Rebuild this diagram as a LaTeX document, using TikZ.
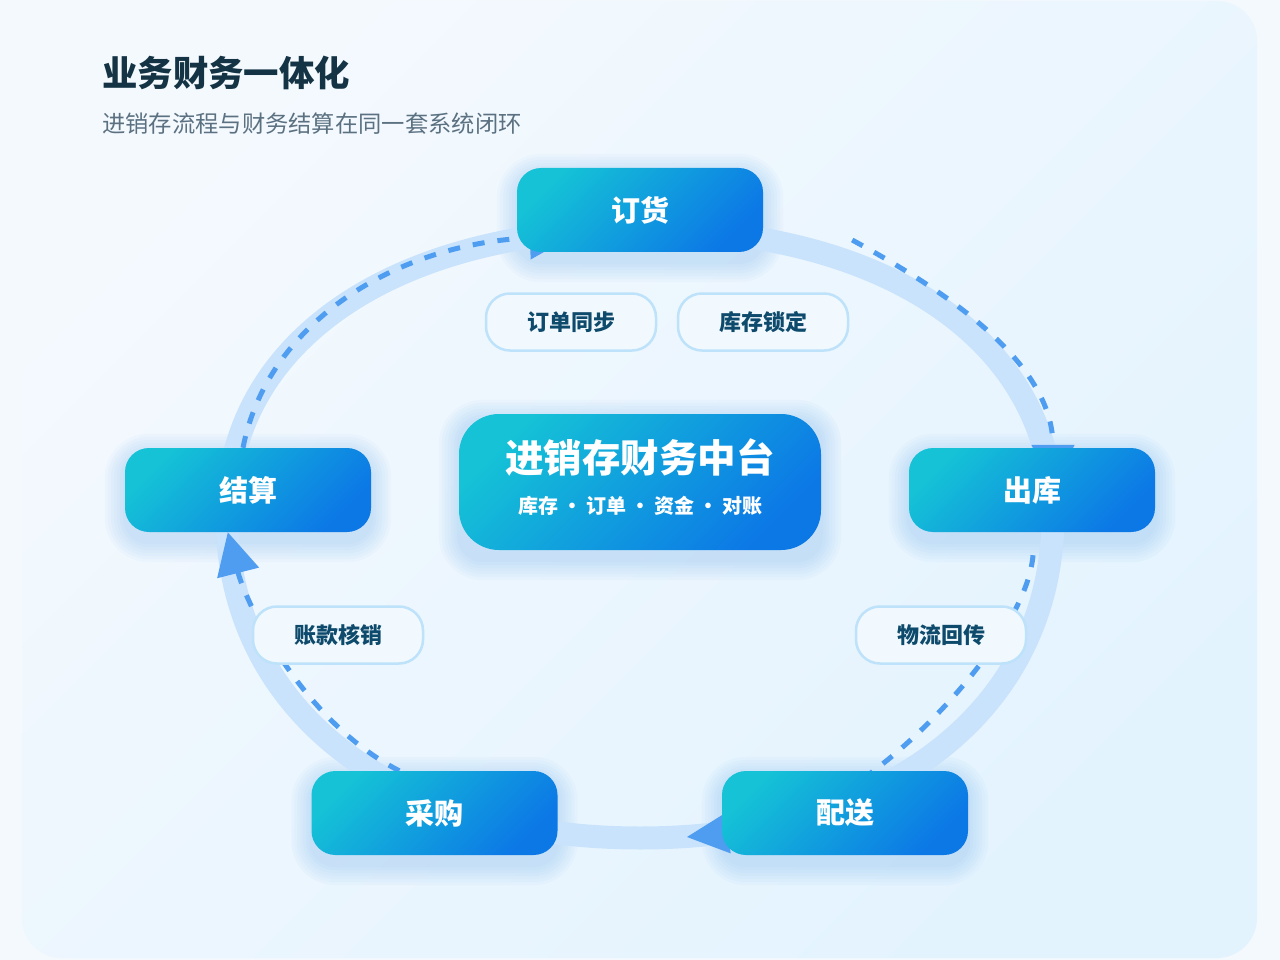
\documentclass[tikz,border=0pt]{standalone}
\usepackage{fontspec}
\setmainfont{Noto Sans CJK SC}
\usetikzlibrary{arrows.meta,calc}
\definecolor{pagebg}{HTML}{F4F9FD}
\definecolor{cardA}{HTML}{F4F9FE}
\definecolor{cardB}{HTML}{E3F3FE}
\definecolor{bandc}{HTML}{C9E3FC}
\definecolor{dashc}{HTML}{4F9DF0}
\definecolor{nodeA}{HTML}{15C2D6}
\definecolor{nodeB}{HTML}{0C78E6}
\definecolor{glowc}{HTML}{7DB9F0}
\definecolor{pillfill}{HTML}{F1F9FF}
\definecolor{pillline}{HTML}{BDE2FA}
\definecolor{pilltext}{HTML}{0E4A6B}
\definecolor{titlec}{HTML}{143445}
\definecolor{subc}{HTML}{5B7181}
\pgfdeclarelayer{cardlayer}
\pgfdeclarelayer{glowlayer}
\pgfdeclarelayer{connlayer}
\pgfsetlayers{cardlayer,glowlayer,connlayer,main}
\tikzset{
  stage/.style={rounded corners=24pt, minimum width=246pt, minimum height=84pt, inner sep=0pt,
    top color=nodeA, bottom color=nodeB, shading angle=45, text=white,
    font=\bfseries\fontsize{29pt}{29pt}\selectfont},
  hub/.style={rounded corners=40pt, minimum width=362pt, minimum height=136pt, inner sep=0pt,
    top color=nodeA, bottom color=nodeB, shading angle=45},
  hubtext/.style={text=white, inner sep=0pt},
  pill/.style={rounded corners=24pt, minimum width=170pt, minimum height=57pt, inner sep=0pt,
    fill=pillfill, draw=pillline, line width=2.5pt, text=pilltext,
    font=\bfseries\fontsize{22pt}{22pt}\selectfont},
  band/.style={draw=bandc, line width=23pt},
  flowplain/.style={draw=dashc, line width=5pt, dash pattern=on 12pt off 13pt},
  flow/.style={flowplain, -{Triangle[length=42pt,width=42pt]}},
  tiponly/.style={draw=dashc, line width=5pt, -{Triangle[length=42pt,width=40pt]}},
  glowbox/.style={fill=glowc, opacity=0.05},
}
\begin{document}
\begin{tikzpicture}[x=1pt,y=-1pt]
\useasboundingbox (0,0) rectangle (1280,960);
\begin{pgfonlayer}{cardlayer}
  \fill[pagebg] (0,0) rectangle (1280,960);
  \shade[top color=cardA, bottom color=cardB, shading angle=45, rounded corners=40pt] (22,1) rectangle (1257,958);
\end{pgfonlayer}

% title
\node[anchor=west, text=titlec, font=\bfseries\fontsize{35.4pt}{35.4pt}\selectfont, inner sep=0pt] (title) at (102,73) {业务财务一体化};
\node[anchor=west, text=subc, font=\fontsize{23.3pt}{23.3pt}\selectfont, inner sep=0pt] (subtitle) at (102,124) {进销存流程与财务结算在同一套系统闭环};

% stages
\node[stage] (dg) at (640,210) {订货};
\node[stage] (js) at (248,490) {结算};
\node[stage] (ck) at (1032,490) {出库};
\node[stage] (cg) at (434.5,813) {采购};
\node[stage] (ps) at (845,813) {配送};

% hub
\node[hub] (hub) at (640,482) {};
\node[hubtext, font=\bfseries\fontsize{38.5pt}{38.5pt}\selectfont] (hubtitle) at ($(hub.center)+(0,-24)$) {进销存财务中台};
\node[hubtext, font=\bfseries\fontsize{20pt}{20pt}\selectfont] (hubsub) at ($(hub.center)+(0,24)$) {库存\hspace{4pt}•\hspace{4pt}订单\hspace{4pt}•\hspace{4pt}资金\hspace{4pt}•\hspace{4pt}对账};

% pills
\node[pill] (p1) at (571,322) {订单同步};
\node[pill] (p2) at (763,322) {库存锁定};
\node[pill] (p3) at (338,635) {账款核销};
\node[pill] (p4) at (941,635) {物流回传};

% glow
\begin{pgfonlayer}{glowlayer}
  \foreach \n in {dg,js,ck,cg,ps,hub} {
    \foreach \e in {2,5,8,11,14,17,20} {
      \pgfmathsetmacro\rr{24+\e}
      \fill[glowbox, rounded corners=\rr pt] ($(\n.south west)+(-\e,\e+10)$) rectangle ($(\n.north east)+(\e,-\e+6)$);
    }
  }
\end{pgfonlayer}

% track and connectors
\begin{pgfonlayer}{connlayer}
  \draw[band] (640,229) .. controls (888,229) and (1053,343) .. (1053,515)
     .. controls (1053,709) and (888,838) .. (640,838)
     .. controls (392,838) and (227,709) .. (227,515)
     .. controls (227,343) and (392,229) .. cycle;
  % 采购 -> 结算
  \draw[flow] ($(cg.north west)+(88,0)$) .. controls (300,720) and (245,600) .. ($(js.south west)+(103,0)$);
  % 结算 -> 订货
  \draw[flow] ($(js.north)+(-5,0)$) .. controls (268,320) and (400,243) .. ($(dg.south west)+(55,-16)$);
  % 订货 -> 出库
  \coordinate (q1) at ($(dg.east)+(89,30)$);
  \draw[flow] (q1) .. controls (940,288) and (1053,360) .. ($(ck.north)+(21,39)$);
  % 出库 -> 配送
  \coordinate (q2) at ($(ck.south)+(1,23)$);
  \draw[flowplain] (q2) .. controls (1028,620) and (940,725) .. ($(ps.north)+(15,10)$);
  % 配送 -> 采购
  \draw[tiponly] ($(ps.west)+(25,18)$) -- ($(ps.west)+(-35,24)$);
\end{pgfonlayer}
\end{tikzpicture}
\end{document}
